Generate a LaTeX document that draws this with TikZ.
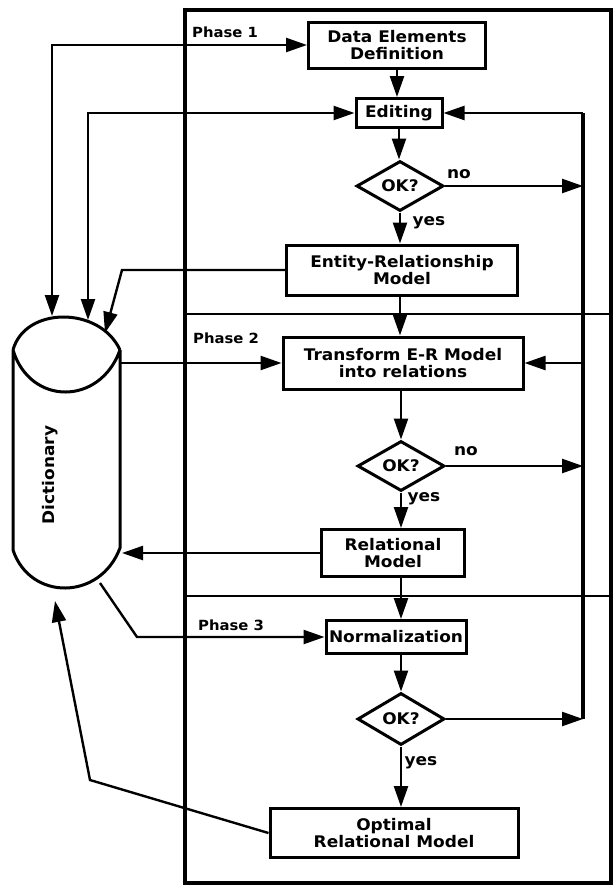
\documentclass[tikz,border=0pt]{standalone}
\usepackage{fontspec}
\newfontfamily\df{DejaVu Sans}[FakeStretch=1.06]
\usetikzlibrary{arrows.meta,shapes.geometric}
\begin{document}
\begin{tikzpicture}[x=1pt,y=-1pt,
  font=\df\bfseries\fontsize{16}{17}\selectfont,
  procbox/.style={draw,line width=3pt,align=center,inner sep=0pt},
  decis/.style={draw,diamond,line width=3pt,inner sep=0pt,minimum width=87pt,minimum height=50pt},
  conn/.style={line width=2.4pt,-{Triangle[length=21pt,width=14pt]}},
  biconn/.style={line width=2.4pt,{Triangle[length=21pt,width=14pt]}-{Triangle[length=21pt,width=14pt]}},
  lbl/.style={inner sep=0pt},
  phase/.style={inner sep=0pt,anchor=west,font=\df\bfseries\fontsize{14}{15}\selectfont}]
\useasboundingbox[fill=white] (0,0) rectangle (615,887);
% frame and phase dividers
\draw[line width=3.2pt] (185,10) rectangle (611,883);
\draw[line width=2.4pt] (185,314) -- (611,314);
\draw[line width=2.4pt] (185,596) -- (611,596);
\node[phase] (p1) at (192,32) {Phase 1};
\node[phase] (p2) at (193,338) {Phase 2};
\node[phase] (p3) at (198,625) {Phase 3};
% process nodes
\node[procbox,minimum width=177pt,minimum height=46pt] (de) at (397,45) {Data Elements\\Definition};
\node[procbox,minimum width=86pt,minimum height=29pt] (ed) at (399,113) {Editing};
\node[decis] (ok1) at (400,186) {OK?};
\node[procbox,minimum width=231pt,minimum height=50pt] (er) at (402,270) {Entity-Relationship\\Model};
\node[procbox,minimum width=240pt,minimum height=52pt] (tr) at (403,363) {Transform E-R Model\\into relations};
\node[decis] (ok2) at (401,466) {OK?};
\node[procbox,minimum width=143pt,minimum height=47pt] (rel) at (393,553) {Relational\\Model};
\node[procbox,minimum width=140pt,minimum height=33pt] (norm) at (396,637) {Normalization};
\node[decis,minimum height=52pt] (ok3) at (401,719) {OK?};
\node[procbox,minimum width=248pt,minimum height=49pt] (opt) at (394,833) {Optimal\\Relational Model};
% labels
\node[lbl] (no1) at (459,174) {no};
\node[lbl] (no2) at (466,451) {no};
\node[lbl] (yes1) at (429,223) {yes};
\node[lbl] (yes2) at (424,499) {yes};
\node[lbl] (yes3) at (421,763) {yes};
% dictionary cylinder
\node[minimum width=107pt,minimum height=271pt,inner sep=0pt] (dict) at (66.5,452.5) {};
\draw[line width=3pt,line join=round]
  (13,350) .. controls (25,306) and (100,306) .. (120,350)
  (13,350) .. controls (30,406) and (100,406) .. (120,350)
  (13,350) -- (13,550) .. controls (30,601) and (100,601) .. (120,548) -- (120,350);
\node[rotate=90,inner sep=0pt] (dtext) at (50,475) {Dictionary};
% dictionary connection points
\coordinate (d1) at (52,316);
\coordinate (d2) at (88,320);
\coordinate (d3) at (105,333);
\coordinate (d4) at (121,363);
\coordinate (d5) at (122,553);
\coordinate (d6) at (100,583);
\coordinate (d7) at (55,601);
% right feedback bus
\coordinate (bt) at (583,113);
\coordinate (b1) at (583,186);
\coordinate (b2) at (583,363);
\coordinate (b3) at (583,466);
\coordinate (bb) at (583,719);
\draw[line width=3.2pt] (bt) -- (bb);
\draw[conn] (bt) -- (ed.east);
\draw[conn] (b2) -- (tr.east);
\draw[conn] (ok1.east) -- (b1);
\draw[conn] (ok2.east) -- (b3);
\draw[conn] (ok3.east) -- (bb);
% main flow
\draw[conn] (de.south) -- (de.south |- ed.north);
\draw[conn] (ed.south) -- (ed.south |- ok1.north);
\draw[conn] (ok1.south) -- (ok1.south |- er.north);
\draw[conn] (er.south -| ok1.south) -- (ok1.south |- tr.north);
\draw[conn] (tr.south -| ok2.north) -- (ok2.north);
\draw[conn] (ok2.south) -- (ok2.south |- rel.north);
\draw[conn] (rel.south -| ok2.south) -- (ok2.south |- norm.north);
\draw[conn] (norm.south -| ok3.north) -- (ok3.north);
\draw[conn] (ok3.south) -- (ok3.south |- opt.north);
% dictionary links
\draw[biconn] (de.west) -- (52,45) -- (d1);
\draw[biconn] (ed.west) -- (88,113) -- (d2);
\draw[conn] (er.west) -- (122,270) -- (d3);
\draw[conn] (d4) -- (tr.west);
\draw[conn] (rel.west) -- (d5);
\draw[conn] (d6) -- (137,637) -- (norm.west);
\draw[conn] (opt.west) -- (90,780) -- (d7);
\end{tikzpicture}
\end{document}
